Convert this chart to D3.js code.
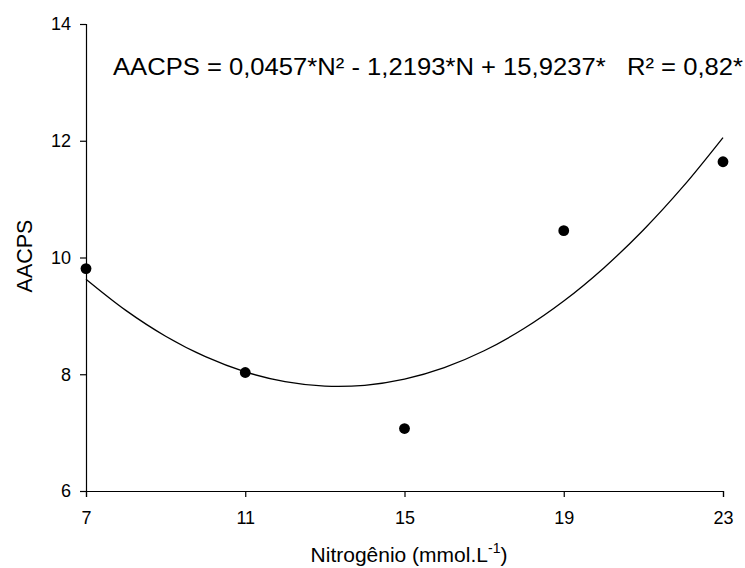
<!DOCTYPE html>
<html>
<head>
<meta charset="utf-8">
<script src="https://cdn.jsdelivr.net/npm/d3@7"></script>
<style>
  body { margin: 0; background: white; }
  text { font-family: "Liberation Sans", Arial, sans-serif; fill: black; }
</style>
</head>
<body>
<svg id="chart" width="745" height="568"></svg>
<script>
// data
var nitrogen = [7, 11, 15, 19, 23];
var aacps = [9.81, 8.03, 7.07, 10.46, 11.64];
var xTicks = [7, 11, 15, 19, 23];
var yTicks = [6, 8, 10, 12, 14];
// fit coefficients as printed on the chart: c0 + c1*N + c2*N^2
var fitCoef = [15.9237, -1.2193, 0.0457];
var fitSteps = [7, 8, 9, 10, 11, 12, 13, 14, 15, 16, 17, 18, 19, 20, 21, 22, 23];
var equationText = "AACPS = 0,0457*N² - 1,2193*N + 15,9237*   R² = 0,82*";

var svg = d3.select("#chart");

var x = d3.scaleLinear().domain([7, 23]).range([86, 723]);
var y = d3.scaleLinear().domain([6, 14]).range([491, 24]);

var xAxis = svg.append("g")
    .attr("transform", "translate(0,491)")
    .call(d3.axisBottom(x).tickValues(xTicks).tickSize(6).tickPadding(14));
var yAxis = svg.append("g")
    .attr("transform", "translate(86,0)")
    .call(d3.axisLeft(y).tickValues(yTicks).tickSize(6).tickPadding(9));

[xAxis, yAxis].forEach(function(a){
    a.select(".domain").attr("stroke", "black").attr("stroke-width", 1.2);
    a.selectAll(".tick line").attr("stroke", "black").attr("stroke-width", 1.2);
    a.selectAll(".tick text")
        .attr("font-size", 18)
        .attr("font-family", "Liberation Sans, Arial, sans-serif")
        .attr("fill", "black");
});

// fitted curve
var fit = function(n){ return fitCoef[0] + fitCoef[1]*n + fitCoef[2]*n*n; };
var line = d3.line()
    .x(function(d){ return x(d); })
    .y(function(d){ return y(fit(d)); })
    .curve(d3.curveCatmullRom);
svg.append("path")
    .datum(fitSteps)
    .attr("d", line)
    .attr("fill", "none")
    .attr("stroke", "black")
    .attr("stroke-width", 1.3);

// points
svg.selectAll(".pt")
    .data(nitrogen)
    .enter()
    .append("circle")
    .classed("pt", true)
    .attr("cx", function(d){ return x(d); })
    .attr("cy", function(d, i){ return y(aacps[i]); })
    .attr("r", 5.4)
    .attr("fill", "black");

// equation
svg.append("text")
    .attr("x", 113)
    .attr("y", 75)
    .attr("font-size", 24.5)
    .attr("textLength", 630)
    .attr("lengthAdjust", "spacingAndGlyphs")
    .style("white-space", "pre")
    .text(equationText);

// axis titles
var xt = svg.append("text")
    .attr("x", 409)
    .attr("y", 562)
    .attr("text-anchor", "middle")
    .attr("font-size", 21);
xt.append("tspan").text("Nitrogênio (mmol.L");
xt.append("tspan").attr("dy", -9).attr("font-size", 14).text("-1");
xt.append("tspan").attr("dy", 9).text(")");

svg.append("text")
    .attr("transform", "translate(31.5,256) rotate(-90)")
    .attr("text-anchor", "middle")
    .attr("font-size", 21.5)
    .text("AACPS");
</script>
</body>
</html>
